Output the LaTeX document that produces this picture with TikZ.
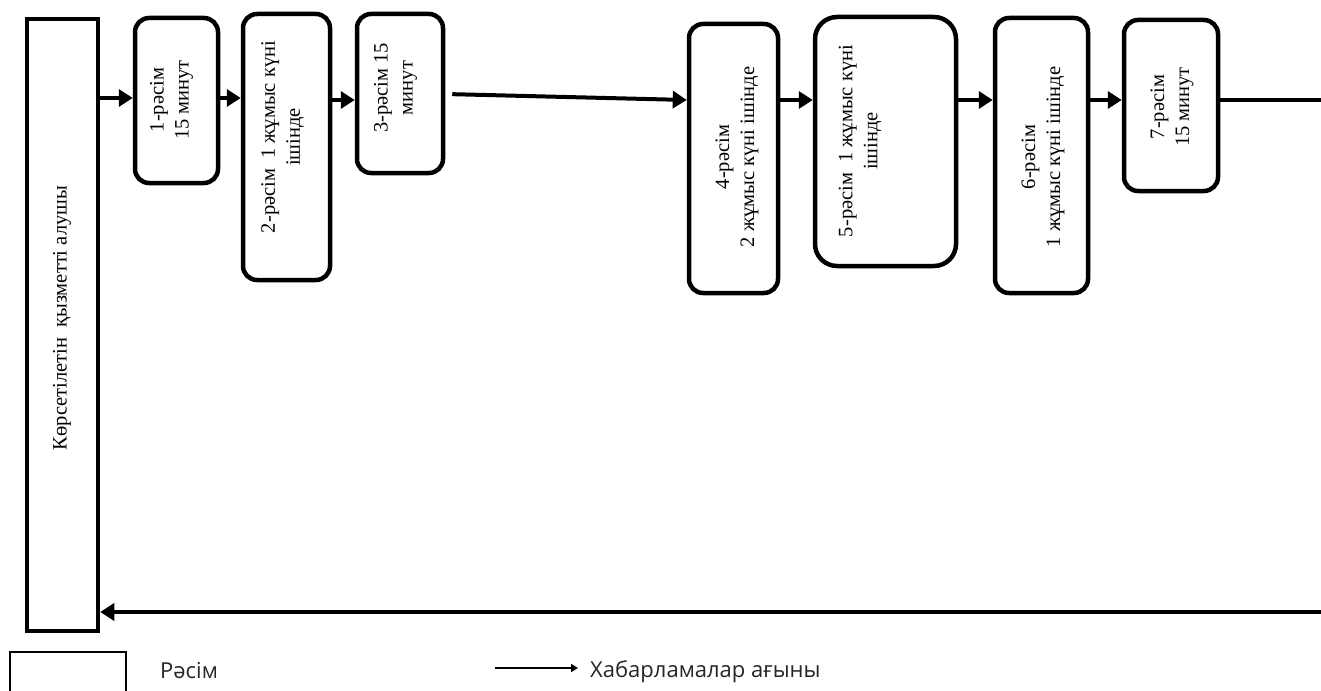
\documentclass[tikz,border=0pt]{standalone}
\usepackage{fontspec}
\newfontfamily\tf{Liberation Serif}
\newfontfamily\lf{Open Sans}
\usetikzlibrary{arrows.meta}
\begin{document}
\begin{tikzpicture}[x=1pt,y=-1pt,
  stepbox/.style={draw, line width=4.5pt, rounded corners=14pt, inner sep=0pt},
  txt/.style={rotate=90, font=\tf\fontsize{20.5}{25}\selectfont, align=center, inner sep=0pt},
  arr/.style={line width=4pt, -{Triangle[length=14pt,width=17pt]}},
  legtxt/.style={anchor=base west, font=\lf\fontsize{22}{25}\selectfont, text=black!85, inner sep=0pt}]
\useasboundingbox[fill=white] (0,0) rectangle (1321,690);

% service recipient
\node[stepbox, sharp corners, minimum width=71pt, minimum height=612pt] (lb) at (62.5,325) {};
\node[txt] (tl) at (62,318) {Көрсетілетін\ \ қызметті алушы};

% procedures
\node[stepbox, minimum width=83pt, minimum height=165pt] (b1) at (176.5,100.5) {};
\node[txt] (t1) at (171.5,100) {1-рәсім\\15 минут};

\node[stepbox, minimum width=87pt, minimum height=266pt] (b2) at (286.5,147) {};
\node[txt] (t2) at (282.5,137) {2-рәсім \ 1 жұмыс күні\\ішінде};

\node[stepbox, minimum width=86pt, minimum height=159pt] (b3) at (400,93.5) {};
\node[txt] (t3) at (395.5,88) {3-рәсім 15\\минут};

\node[stepbox, minimum width=89pt, minimum height=269pt] (b4) at (733.5,158.5) {};
\node[txt] (t4) at (737,157) {4-рәсім\\2 жұмыс күні ішінде};

\node[stepbox, rounded corners=22pt, minimum width=141pt, minimum height=249pt] (b5) at (885.5,141.5) {};
\node[txt] (t5) at (860,141) {5-рәсім \ 1 жұмыс күні\\ішінде};

\node[stepbox, minimum width=93pt, minimum height=275pt] (b6) at (1041.5,155.5) {};
\node[txt] (t6) at (1043,157) {6-рәсім\\1 жұмыс күні ішінде};

\node[stepbox, minimum width=94pt, minimum height=171pt] (b7) at (1171,105.5) {};
\node[txt] (t7) at (1172,107) {7-рәсім\\15 минут};

% connectors
\draw[arr] (lb.east |- 0,98) -- (b1.west |- 0,98);
\draw[arr] (b1.east |- 0,98) -- (b2.west |- 0,98);
\draw[arr] (b2.east |- 0,100) -- (b3.west |- 0,100);
\draw[arr, shorten <=7pt] (b3.east |- 0,94) -- (b4.west |- 0,100);
\draw[arr] (b4.east |- 0,100) -- (b5.west |- 0,100);
\draw[arr] (b5.east |- 0,100) -- (b6.west |- 0,100);
\draw[arr] (b6.east |- 0,100) -- (b7.west |- 0,100);
\coordinate (cr) at (1340,100);
\coordinate (cb) at (1340,612);
\draw[arr] (b7.east |- 0,100) -- (cr) -- (cb) -- (cb -| lb.east);

% legend
\node[draw, line width=2.5pt, minimum width=116pt, minimum height=48pt, inner sep=0pt] (lg) at (68,676) {};
\node[legtxt] (lgt) at (160,678) {Рәсім};
\coordinate (la) at (495,668);
\node[legtxt] (lat) at (590,677) {Хабарламалар ағыны};
\draw[line width=2.5pt, -{Triangle[length=7pt,width=8pt]}] (la) -- (578,668);
\end{tikzpicture}
\end{document}
